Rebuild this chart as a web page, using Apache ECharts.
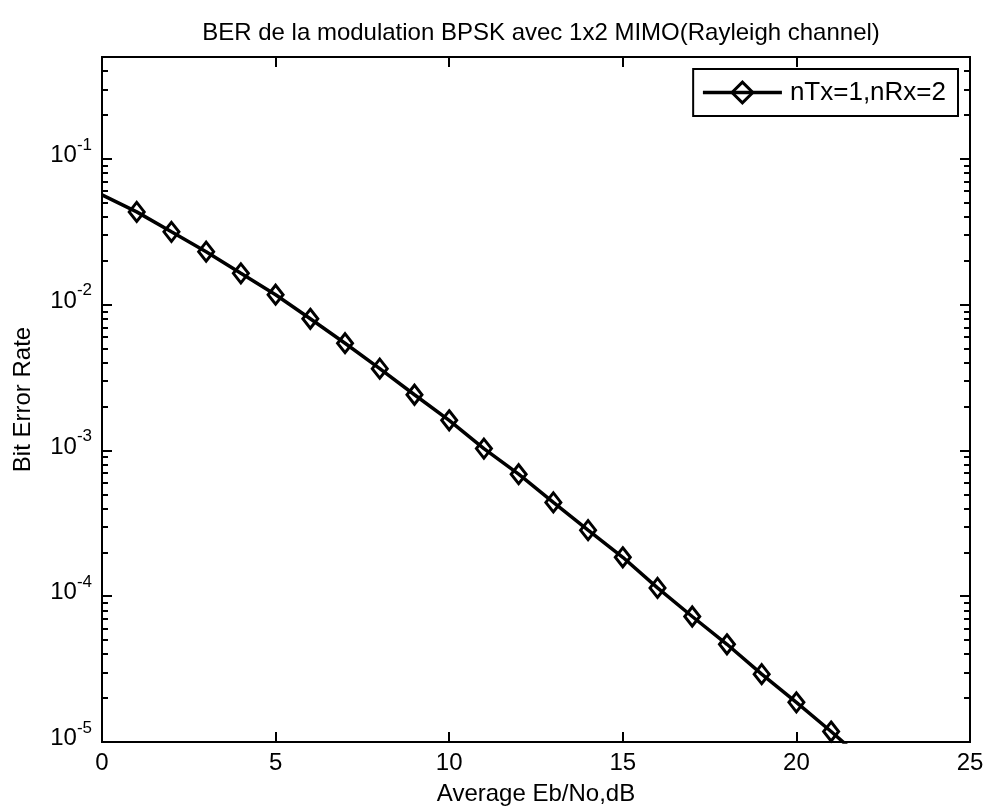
<!DOCTYPE html>
<html>
<head>
<meta charset="utf-8">
<script src="https://cdn.jsdelivr.net/npm/echarts@6/dist/echarts.min.js"></script>
<style>
  html, body { margin: 0; padding: 0; background: #fff; }
  #chart { width: 987px; height: 812px; }
</style>
</head>
<body>
<div id="chart"></div>
<script>
// Simulated BER of BPSK over a Rayleigh channel, 1 transmit / 2 receive antennas
const ebN0dB = [0, 1, 2, 3, 4, 5, 6, 7, 8, 9, 10, 11, 12, 13, 14, 15, 16, 17, 18, 19, 20, 21, 22];
const berSim = [0.0566, 0.0433, 0.0316, 0.0231, 0.0164, 0.0117, 0.0080, 0.00544, 0.00364, 0.00241,
                0.00161, 0.00103, 0.000687, 0.000440, 0.000284, 0.000185, 0.000114, 7.26e-5,
                4.68e-5, 2.92e-5, 1.87e-5, 1.18e-5, 7.3e-6];
const seriesName = 'nTx=1,nRx=2';

// Axis ranges and ticks
const xRange = [0, 25];
const xStep = 5;
const yRange = [1e-5, 0.5];
const yDecades = [1e-5, 1e-4, 1e-3, 1e-2, 1e-1];
const yMantissas = [2, 3, 4, 5, 6, 7, 8, 9];
const yMinorTicks = [];
yDecades.forEach(d => yMantissas.forEach(m => {
  const v = +(m * d).toPrecision(3);
  if (v <= yRange[1]) yMinorTicks.push(v);
}));

const FONT = 'Liberation Sans, Arial, Helvetica, sans-serif';

const chart = echarts.init(document.getElementById('chart'), null, { renderer: 'canvas' });

const seriesData = ebN0dB.map((x, i) => {
  const item = { value: [x, berSim[i]] };
  if (x === xRange[0]) item.symbol = 'none';
  return item;
});

function logAxis(position, ticks, tickLen, withLabels) {
  return {
    type: 'log',
    logBase: 10,
    position: position,
    min: yRange[0],
    max: yRange[1],
    gridIndex: 0,
    axisLine: { show: true, lineStyle: { color: '#000', width: 2 } },
    axisTick: { show: true, inside: true, length: tickLen, customValues: ticks,
                lineStyle: { color: '#000', width: 2 } },
    axisLabel: withLabels ? {
      show: true,
      customValues: yDecades,
      margin: 10,
      padding: [0, 0, 7, 0],
      formatter: v => '{b|10}{s|' + Math.round(Math.log10(v)) + '}',
      rich: {
        b: { fontSize: 24, fontFamily: FONT, color: '#000', lineHeight: 24, verticalAlign: 'bottom' },
        s: { fontSize: 17, fontFamily: FONT, color: '#000', lineHeight: 17, padding: [0, 0, 14, 0], verticalAlign: 'bottom' }
      }
    } : { show: false },
    splitLine: { show: false },
    minorTick: { show: false },
    name: withLabels ? 'Bit Error Rate' : '',
    nameLocation: 'middle',
    nameGap: 67,
    nameTextStyle: { fontSize: 24, fontFamily: FONT, color: '#000' }
  };
}

function linAxis(position, withLabels) {
  return {
    type: 'value',
    position: position,
    min: xRange[0],
    max: xRange[1],
    interval: xStep,
    gridIndex: 0,
    axisLine: { show: true, onZero: false, lineStyle: { color: '#000', width: 2 } },
    axisTick: { show: true, inside: true, length: 10, lineStyle: { color: '#000', width: 2 } },
    axisLabel: withLabels ? { show: true, fontSize: 24, fontFamily: FONT, color: '#000', margin: 9 } : { show: false },
    splitLine: { show: false },
    name: withLabels ? 'Average Eb/No,dB' : '',
    nameLocation: 'middle',
    nameGap: 40,
    nameTextStyle: { fontSize: 24, fontFamily: FONT, color: '#000' }
  };
}

chart.setOption({
  backgroundColor: '#fff',
  animation: false,
  title: {
    text: 'BER de la modulation BPSK avec 1x2 MIMO(Rayleigh channel)',
    left: 536,
    textAlign: 'center',
    top: 16,
    textStyle: { fontSize: 24, fontWeight: 'normal', fontFamily: FONT, color: '#000' }
  },
  grid: { left: 102, right: 17, top: 57, bottom: 70, containLabel: false },
  legend: {
    right: 29,
    top: 69,
    backgroundColor: '#fff',
    borderColor: '#000',
    borderWidth: 2,
    borderRadius: 0,
    padding: [10, 12, 10, 8],
    itemWidth: 79,
    itemHeight: 26,
    selectedMode: false,
    lineStyle: { color: '#000', width: 3.5 },
    itemStyle: { color: 'rgba(0,0,0,0)', borderColor: '#000', borderWidth: 3 },
    textStyle: { fontSize: 26, fontFamily: FONT, color: '#000', lineHeight: 27, padding: [0, 0, 0, 3] },
    data: [seriesName]
  },
  xAxis: [linAxis('bottom', true), linAxis('top', false)],
  yAxis: [
    logAxis('left', yDecades, 10, true),
    logAxis('left', yMinorTicks, 6, false),
    logAxis('right', yDecades, 10, false),
    logAxis('right', yMinorTicks, 6, false)
  ],
  series: [{
    name: seriesName,
    type: 'line',
    xAxisIndex: 0,
    yAxisIndex: 0,
    data: seriesData,
    clip: true,
    symbol: 'diamond',
    symbolSize: [15, 19],
    lineStyle: { color: '#000', width: 3.5 },
    itemStyle: { color: 'rgba(0,0,0,0)', borderColor: '#000', borderWidth: 3 },
    emphasis: { disabled: true }
  }]
});
</script>
</body>
</html>
